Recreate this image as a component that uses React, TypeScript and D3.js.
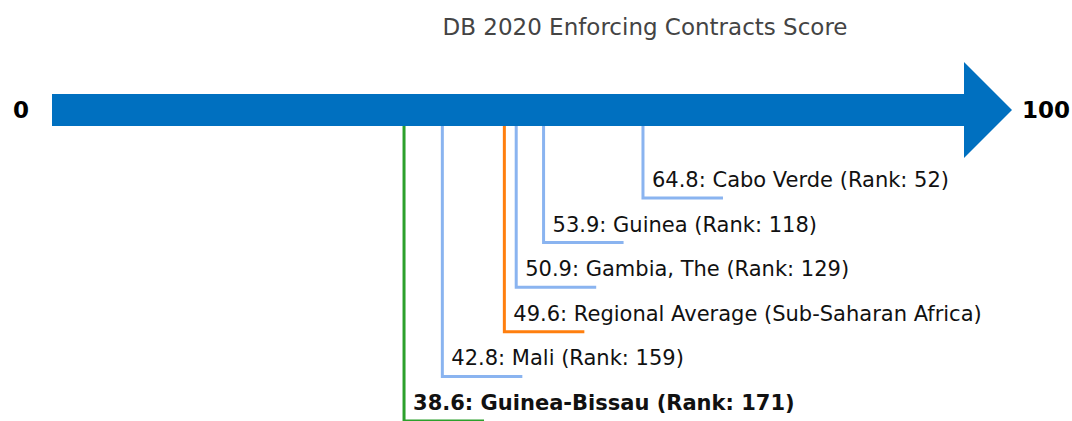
import React, {useEffect, useRef} from "react";
import * as d3 from "d3";

const economies = ["Guinea-Bissau", "Mali", "Regional Average (Sub-Saharan Africa)", "Gambia, The", "Guinea", "Cabo Verde"];
const scores = [38.6, 42.8, 49.6, 50.9, 53.9, 64.8];
const ranks = [171, 159, null, 129, 118, 52];
const kinds = ["target", "peer", "region", "peer", "peer", "peer"];

const colourOf = {target: "#2ca02c", peer: "#8ab4f0", region: "#ff7f0e"};

const App = () => {
    const ref = useRef(null);
    const width = 1072;
    const height = 421;

    useEffect(() => {
        const svg = d3.select(ref.current);
        svg.selectAll("*").remove();

        const x = d3.scaleLinear().domain([0, 100]).range([52, 964]);
        const y = d3.scalePoint().domain(economies.slice().reverse()).range([198, 421]);
        const barY = 110;

        svg.append("text")
            .attr("x", 645).attr("y", 27)
            .attr("text-anchor", "middle").attr("dominant-baseline", "central")
            .attr("font-size", 23).attr("fill", "#444")
            .text("DB 2020 Enforcing Contracts Score");

        // arrow body + head
        const head = 48;
        svg.append("path")
            .attr("d", `M${x(0)},${barY - 16} L${x(100)},${barY - 16} L${x(100)},${barY - 48}` +
                ` L${x(100) + head},${barY} L${x(100)},${barY + 48} L${x(100)},${barY + 16} L${x(0)},${barY + 16} Z`)
            .attr("fill", "#0070c0");

        svg.append("text").attr("x", 21).attr("y", barY)
            .attr("text-anchor", "middle").attr("dominant-baseline", "central")
            .attr("font-size", 23).attr("font-weight", "bold").attr("fill", "#000")
            .text("0");
        svg.append("text").attr("x", 1022).attr("y", barY)
            .attr("dominant-baseline", "central")
            .attr("font-size", 23).attr("font-weight", "bold").attr("fill", "#000")
            .text("100");

        const rows = economies.map((name, i) => ({name, score: scores[i], rank: ranks[i], kind: kinds[i]}));

        const g = svg.append("g").selectAll("g").data(rows).join("g");
        g.append("path")
            .attr("d", d => `M${x(d.score)},${barY + 16} L${x(d.score)},${y(d.name)} L${x(d.score) + 80},${y(d.name)}`)
            .attr("fill", "none")
            .attr("stroke", d => colourOf[d.kind])
            .attr("stroke-width", 3);
        g.append("text")
            .attr("x", d => x(d.score) + 9)
            .attr("y", d => y(d.name) - 11)
            .attr("font-size", 21)
            .attr("font-weight", d => d.kind === "target" ? "bold" : "normal")
            .attr("fill", "#111")
            .text(d => d.rank === null ? `${d.score.toFixed(1)}: ${d.name}` : `${d.score.toFixed(1)}: ${d.name} (Rank: ${d.rank})`);
    }, []);

    return (
        <svg
            ref={ref}
            width={width}
            height={height}
            style={{position: "absolute", left: 0, top: 0, fontFamily: "DejaVu Sans", background: "#fff"}}
        />
    );
};

export default App;
